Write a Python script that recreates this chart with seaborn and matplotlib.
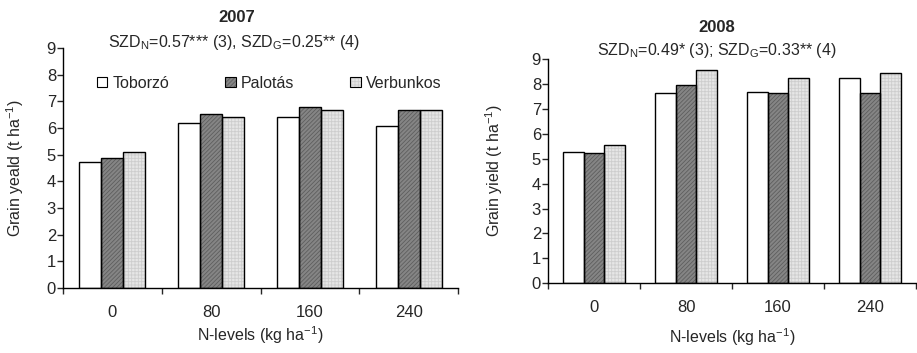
import pandas as pd
import matplotlib.pyplot as plt
import matplotlib.patches as mpatches
import seaborn as sns

# N-levels and varieties
nLevels = ['0', '80', '160', '240']
varieties = ['Toborzó', 'Palotás', 'Verbunkos']

# grain yield (t/ha)
y2007 = {
    'Toborzó':   [4.72, 6.19, 6.40, 6.06],
    'Palotás':   [4.88, 6.53, 6.78, 6.68],
    'Verbunkos': [5.10, 6.40, 6.68, 6.68],
}
y2008 = {
    'Toborzó':   [5.28, 7.63, 7.69, 8.23],
    'Palotás':   [5.23, 7.94, 7.63, 7.63],
    'Verbunkos': [5.54, 8.54, 8.23, 8.43],
}

titles = ['2007', '2008']
subtitles = ['SZD$_\\mathrm{N}$=0.57*** (3), SZD$_\\mathrm{G}$=0.25** (4)',
             'SZD$_\\mathrm{N}$=0.49* (3); SZD$_\\mathrm{G}$=0.33** (4)']
ylabels = ['Grain yeald (t ha$^{\\mathrm{-1}}$)', 'Grain yield (t ha$^{\\mathrm{-1}}$)']
xlabel = 'N-levels (kg ha$^{\\mathrm{-1}}$)'

sns.set_style('ticks')
plt.rcParams['font.family'] = ['Liberation Sans', 'DejaVu Sans']
plt.rcParams['mathtext.fontset'] = 'custom'
plt.rcParams['mathtext.rm'] = 'Liberation Sans'
plt.rcParams['mathtext.it'] = 'Liberation Sans:italic'
plt.rcParams['mathtext.bf'] = 'Liberation Sans:bold'
plt.rcParams['hatch.linewidth'] = 0.6

# fill, hatch, hatch colour (hatch follows edge colour, so outline drawn separately)
styles = {
    'Toborzó':   dict(facecolor='white', hatch=None, hcol='white'),
    'Palotás':   dict(facecolor='#858585', hatch='////////', hcol='#5e5e5e'),
    'Verbunkos': dict(facecolor='#e6e6e6', hatch='+++++', hcol='#cdcdcd'),
}


def toFrame(d):
    rows = []
    for v in varieties:
        for n, val in zip(nLevels, d[v]):
            rows.append({'N': n, 'Variety': v, 'Yield': val})
    return pd.DataFrame(rows)


def styleBar(p, v):
    st = styles[v]
    p.set_facecolor(st['facecolor'])
    p.set_edgecolor(st['hcol'])
    p.set_linewidth(0)
    if st['hatch']:
        p.set_hatch(st['hatch'])


fig = plt.figure(figsize=(9.17, 3.53), dpi=100)
axL = fig.add_axes([0.0687, 0.184, 0.4308, 0.680])
axR = fig.add_axes([0.5976, 0.1974, 0.4014, 0.6355])
axes = [axL, axR]

for i, (ax, d) in enumerate(zip(axes, [y2007, y2008])):
    df = toFrame(d)
    sns.barplot(data=df, x='N', y='Yield', hue='Variety', order=nLevels,
                hue_order=varieties, width=0.67, legend=False, ax=ax)
    bars = [p for p in ax.patches if isinstance(p, mpatches.Rectangle)]
    for k, p in enumerate(bars):
        styleBar(p, varieties[k // len(nLevels)])
        ax.add_patch(mpatches.Rectangle(p.get_xy(), p.get_width(), p.get_height(),
                                        fill=False, edgecolor='black', linewidth=1.0))
    ax.set_xlim(-0.5, 3.5)
    ax.set_ylim(0, 9)
    ax.set_yticks(range(0, 10))
    ax.set_xticks([-0.5, 0.5, 1.5, 2.5, 3.5], minor=True)
    ax.tick_params(axis='x', which='major', length=0, pad=12, labelsize=12)
    ax.tick_params(axis='x', which='minor', length=4, width=1, direction='out')
    ax.tick_params(axis='y', length=4, width=1, pad=1, labelsize=12)
    sns.despine(ax=ax)
    for s in ['left', 'bottom']:
        ax.spines[s].set_linewidth(1.0)
        ax.spines[s].set_color('black')
    ax.set_xlabel(xlabel, fontsize=11.5)
    ax.set_ylabel(ylabels[i], fontsize=11.5)

axL.xaxis.set_label_coords(0.5, -0.15)
axR.xaxis.set_label_coords(0.5, -0.19)
axL.yaxis.set_label_coords(-0.094, 0.5)
axR.yaxis.set_label_coords(-0.117, 0.5)

fig.text(237 / 917, 1 - 18 / 353, titles[0], ha='center', va='center', fontsize=12, fontweight='bold')
fig.text(234 / 917, 1 - 43 / 353, subtitles[0], ha='center', va='center', fontsize=11.5)
fig.text(717 / 917, 1 - 27 / 353, titles[1], ha='center', va='center', fontsize=12, fontweight='bold')
fig.text(717 / 917, 1 - 50 / 353, subtitles[1], ha='center', va='center', fontsize=11.5)

handles = []
for v in varieties:
    h = mpatches.Patch()
    styleBar(h, v)
    outline = mpatches.Patch(fill=False, edgecolor='black', linewidth=0.8)
    handles.append((h, outline))
axL.legend(handles=handles, labels=varieties, loc='center left', bbox_to_anchor=(0.086, 0.854),
           ncol=3, frameon=False, fontsize=11.5, handlelength=0.65, handleheight=0.65,
           handletextpad=0.33, columnspacing=3.5, borderpad=0, borderaxespad=0)

plt.savefig('out.png', dpi=100)
